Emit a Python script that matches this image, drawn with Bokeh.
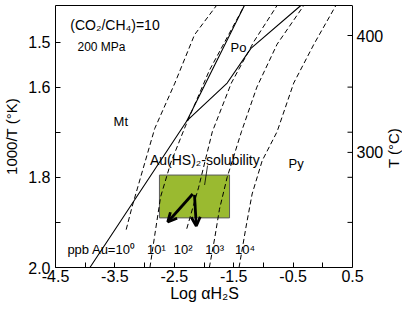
import math
from bokeh.plotting import figure
from bokeh.models import (Range1d, LinearAxis, FixedTicker, Label, Arrow, OpenHead,
                          PrintfTickFormatter)
from bokeh.embed import file_html
from bokeh.resources import INLINE

# ---- data, x = log a(H2S), y = 1000/T (K) ----
line_A_x = [-3.92, -2.29, -1.32]
line_A_y = [2.0, 1.675, 1.419]
line_B_x = [-2.29, -1.61, -1.21, -0.37]
line_B_y = [1.675, 1.591, 1.514, 1.419]

au_0_x = [-3.31, -3.21, -2.83, -2.49, -2.16, -1.79]
au_0_y = [1.916, 1.865, 1.692, 1.591, 1.484, 1.419]
au_1_x = [-2.91, -2.83, -2.73, -2.56, -2.33, -1.91, -1.32]
au_1_y = [2.0, 1.929, 1.843, 1.768, 1.692, 1.563, 1.419]
au_2_x = [-2.29, -2.09, -1.86, -1.54, -1.16, -0.77]
au_2_y = [1.914, 1.822, 1.699, 1.591, 1.499, 1.419]
au_3_x = [-1.91, -1.82, -1.74, -1.61, -1.37, -1.11, -0.77, -0.32]
au_3_y = [2.0, 1.935, 1.871, 1.80, 1.699, 1.60, 1.505, 1.419]
au_4_x = [-1.41, -1.29, -1.19, -1.02, -0.77, -0.49, -0.15, 0.22]
au_4_y = [2.0, 1.908, 1.837, 1.763, 1.699, 1.591, 1.505, 1.419]

box_x = [-2.75, -1.57]
box_y = [1.795, 1.89]

arrow_start_x = [-2.19, -2.16]
arrow_start_y = [1.837, 1.839]
arrow_end_x = [-2.61, -2.13]
arrow_end_y = [1.899, 1.908]

leader_x = [-1.94, -1.99]
leader_y = [1.774, 1.817]

x_lim = [-4.5, 0.5]
y_lim = [2.0, 1.419]
x_major_ticks = [-4.5, -3.5, -2.5, -1.5, -0.5, 0.5]
x_minor_ticks = [-4.0, -3.0, -2.0, -1.0, 0.0]
y_major_ticks = [1.5, 1.6, 1.8, 2.0]
y_minor_ticks = [1.7, 1.9]
right_minor_ticks = [1.6, 1.7, 1.8, 1.9]
t_celsius_ticks = [400, 300]

FONT = "Liberation Sans"
FRAME_W = 347          # frame also holds the right-hand axis area
PX_PER_X = 59.4        # pixels per x unit inside the plotted box
x_end = x_lim[0] + FRAME_W / PX_PER_X

p = figure(frame_width=FRAME_W, frame_height=262, output_backend="svg",
           toolbar_location=None,
           x_range=Range1d(x_lim[0], x_end), y_range=Range1d(y_lim[0], y_lim[1]),
           min_border_left=51, min_border_right=0, min_border_top=5,
           min_border_bottom=10)
p.xgrid.visible = False
p.ygrid.visible = False
p.outline_line_color = None
p.background_fill_color = "white"
p.border_fill_color = "white"


def style_axis(ax, standoff):
    ax.major_tick_in = 5
    ax.major_tick_out = 0
    ax.minor_tick_in = 5
    ax.minor_tick_out = 0
    ax.axis_line_color = "black"
    ax.major_tick_line_color = "black"
    ax.minor_tick_line_color = "black"
    ax.major_label_text_font = FONT
    ax.major_label_text_font_size = "16px"
    ax.major_label_text_color = "black"
    ax.major_label_standoff = standoff
    ax.axis_label_text_font = FONT
    ax.axis_label_text_font_style = "normal"
    ax.axis_label_text_color = "black"


xa = p.xaxis[0]
xa.ticker = FixedTicker(ticks=x_major_ticks, minor_ticks=x_minor_ticks)
xa.formatter = PrintfTickFormatter(format="%.1f")
xa.bounds = (x_lim[0], x_lim[1])
style_axis(xa, 2)
# padded on the right so that it centres under the plotted box, not the whole frame
xa.axis_label = "Log αH₂S" + "\u00a0" * 11
xa.axis_label_text_font_size = "16px"
xa.axis_label_standoff = 0

ya = p.yaxis[0]
ya.ticker = FixedTicker(ticks=y_major_ticks, minor_ticks=y_minor_ticks)
ya.formatter = PrintfTickFormatter(format="%.1f")
style_axis(ya, 5)
ya.axis_label = "1000/T (°K)"
ya.axis_label_text_font_size = "15px"
ya.axis_label_standoff = 5

# top border of the box
ta = LinearAxis(ticker=FixedTicker(ticks=[]), bounds=(x_lim[0], x_lim[1]))
ta.major_tick_in = 0
ta.major_tick_out = 0
ta.minor_tick_in = 0
ta.minor_tick_out = 0
ta.major_label_text_font_size = "0px"
ta.major_label_standoff = 0
ta.axis_line_color = "black"
p.add_layout(ta, "above")

# right-hand temperature axis, drawn inside the extended frame
right_pos = [1000.0 / (t + 273.15) for t in t_celsius_ticks]
tick_len = 5.0 / PX_PER_X
p.segment(x0=[x_lim[1]], y0=[y_lim[0]], x1=[x_lim[1]], y1=[y_lim[1]],
          line_color="black", line_width=1)
all_right = right_pos + right_minor_ticks
p.segment(x0=[x_lim[1]] * len(all_right), y0=all_right,
          x1=[x_lim[1] - tick_len] * len(all_right), y1=all_right,
          line_color="black", line_width=1)
for pos, t in zip(right_pos, t_celsius_ticks):
    p.add_layout(Label(x=x_lim[1] + 4.0 / PX_PER_X, y=pos, text=str(t), text_font=FONT,
                       text_font_size="16px", text_align="left", text_baseline="middle",
                       text_color="black"))
p.add_layout(Label(x=x_lim[0] + 338.0 / PX_PER_X, y=1.735, text="T (°C)", text_font=FONT,
                   text_font_size="15px", text_align="center", text_baseline="middle",
                   angle=math.pi / 2, text_color="black"))

# green box
p.quad(left=box_x[0], right=box_x[1], top=box_y[0], bottom=box_y[1],
       fill_color="#9aba30", line_color="#5a5a5a", line_width=1)

# solid phase boundaries
p.line(line_A_x, line_A_y, line_color="black", line_width=1.1)
p.line(line_B_x, line_B_y, line_color="black", line_width=1.1)

# dashed solubility isopleths
for xs, ys in [(au_0_x, au_0_y), (au_1_x, au_1_y), (au_2_x, au_2_y),
               (au_3_x, au_3_y), (au_4_x, au_4_y)]:
    p.line(xs, ys, line_color="black", line_width=1, line_dash="5 3")

p.line(leader_x, leader_y, line_color="black", line_width=0.8)

for i in range(len(arrow_start_x)):
    p.add_layout(Arrow(end=OpenHead(size=9, line_width=2.8, line_color="black"),
                       x_start=arrow_start_x[i], y_start=arrow_start_y[i],
                       x_end=arrow_end_x[i], y_end=arrow_end_y[i],
                       line_width=2.8, line_color="black"))


def lab(x, y, text, size="12px", align="left"):
    p.add_layout(Label(x=x, y=y, text=text, text_font=FONT, text_font_size=size,
                       text_align=align, text_baseline="middle", text_color="black"))


lab(-4.25, 1.462, "(CO₂/CH₄)=10", "14px")
lab(-4.13, 1.510, "200 MPa", "12px")
lab(-3.40, 1.677, "Mt", "13px", "center")
lab(-1.42, 1.512, "Po", "13px", "center")
lab(-0.45, 1.770, "Py", "13px", "center")
lab(-2.91, 1.761, "Au(HS)₂-solubility", "14px")
lab(-4.30, 1.961, "ppb Au=10⁰", "13px")
lab(-2.80, 1.961, "10¹", "13px", "center")
lab(-2.35, 1.961, "10²", "13px", "center")
lab(-1.82, 1.961, "10³", "13px", "center")
lab(-1.31, 1.961, "10⁴", "13px", "center")

open("out.html", "w").write(file_html(p, INLINE))
